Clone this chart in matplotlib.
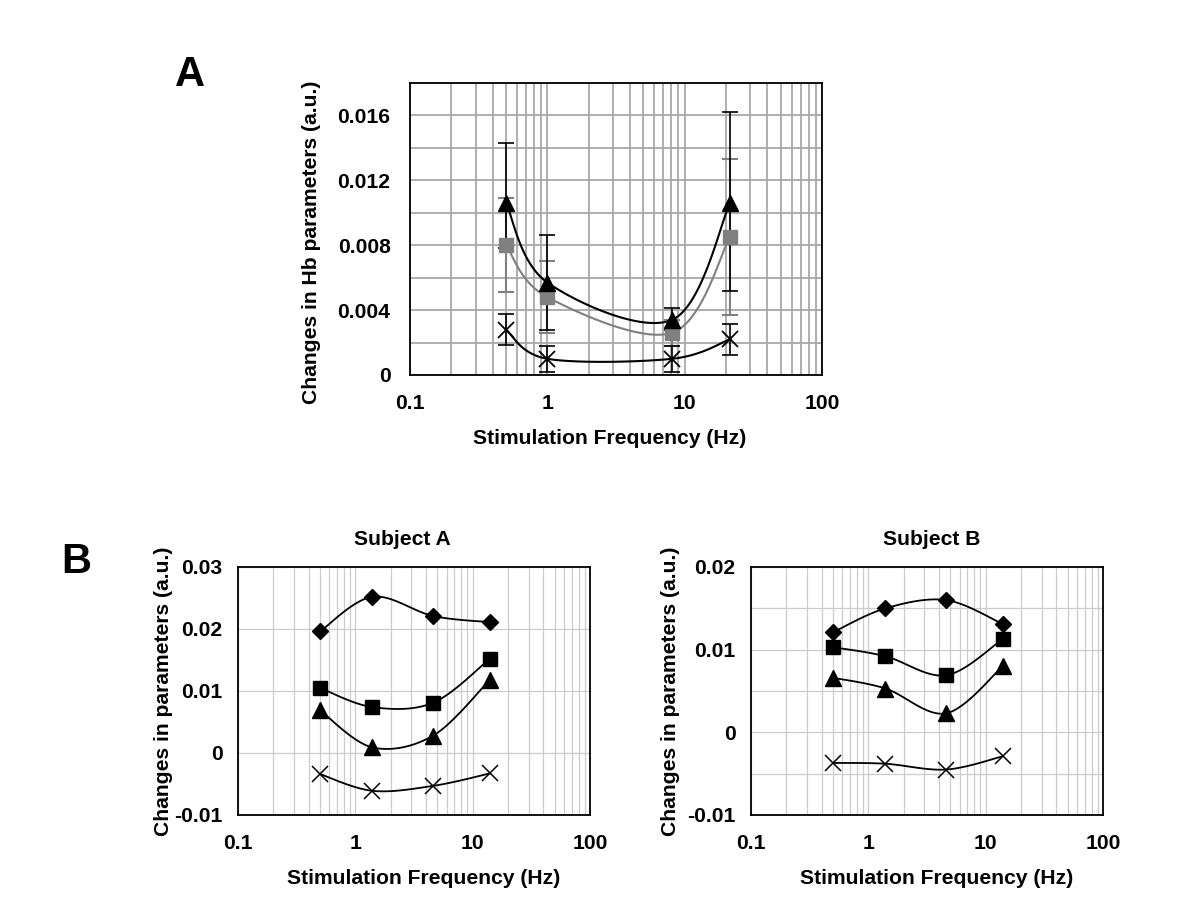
import numpy as np
import matplotlib
matplotlib.use("Agg")
import matplotlib.pyplot as plt
from matplotlib.ticker import FixedLocator, LogLocator, NullFormatter, FixedFormatter

plt.rcParams['font.family'] = ['Liberation Sans', 'DejaVu Sans']
plt.rcParams['font.weight'] = 'bold'

# ---------------- Panel A data ----------------
freq_a = [0.5, 1.0, 8.1, 21.4]
tri_a = [0.0106, 0.0057, 0.0034, 0.0106]
tri_a_err_lo = [0.0028, 0.0029, 0.0006, 0.0054]
tri_a_err_hi = [0.0037, 0.0029, 0.0007, 0.0056]
sq_a = [0.0080, 0.0048, 0.0026, 0.0085]
sq_a_err = [0.0029, 0.0022, 0.0008, 0.0048]
x_a = [0.0028, 0.0010, 0.0010, 0.0022]
x_a_err = [0.00095, 0.0008, 0.0008, 0.00095]
yticks_a = [0, 0.004, 0.008, 0.012, 0.016]
yticklabels_a = ["0", "0.004", "0.008", "0.012", "0.016"]

# ---------------- Panel B data ----------------
freq_b = [0.5, 1.4, 4.6, 14.0]
subjA_diamond = [0.0196, 0.0252, 0.0221, 0.0211]
subjA_square = [0.0105, 0.0074, 0.0081, 0.0152]
subjA_triangle = [0.0069, 0.0009, 0.0028, 0.0118]
subjA_x = [-0.0034, -0.0061, -0.0053, -0.0033]
subjB_diamond = [0.0121, 0.0150, 0.0160, 0.0131]
subjB_square = [0.0103, 0.0092, 0.0069, 0.0113]
subjB_triangle = [0.0066, 0.0053, 0.0023, 0.0080]
subjB_x = [-0.0037, -0.0038, -0.0045, -0.0029]
yticks_sa = [-0.01, 0, 0.01, 0.02, 0.03]
yticklabels_sa = ["-0.01", "0", "0.01", "0.02", "0.03"]
yticks_sb = [-0.01, 0, 0.01, 0.02]
yticklabels_sb = ["-0.01", "0", "0.01", "0.02"]
xticks = [0.1, 1, 10, 100]
xticklabels = ["0.1", "1", "10", "100"]

FS = 15.2


def smooth(xs, ys, n=40):
    """Catmull-Rom curve through the points in (log10 x, y) space."""
    lx = np.log10(np.asarray(xs, float))
    y = np.asarray(ys, float)
    P = np.column_stack([lx, y])
    Pext = np.vstack([P[0], P, P[-1]])
    out = []
    for i in range(len(P) - 1):
        p0, p1, p2, p3 = Pext[i], Pext[i + 1], Pext[i + 2], Pext[i + 3]
        c1 = p1 + (p2 - p0) / 6.0
        c2 = p2 - (p3 - p1) / 6.0
        t = np.linspace(0, 1, n)[:, None]
        seg = ((1 - t) ** 3) * p1 + 3 * ((1 - t) ** 2) * t * c1 + 3 * (1 - t) * t ** 2 * c2 + t ** 3 * p2
        out.append(seg)
    out = np.vstack(out)
    return 10 ** out[:, 0], out[:, 1]


W, H = 1199, 901
fig = plt.figure(figsize=(W / 100, H / 100), dpi=100)
fig.patch.set_facecolor('white')


def make_ax(l, r, t, b):
    return fig.add_axes([l / W, (H - b) / H, (r - l) / W, (b - t) / H])


def style_axes(ax, ylim, yticks, ylabels, ygrid, gridcolor, gridlw, ylabel,
               ypad, ylabelpad, ylabel_y, xlabel_x):
    ax.set_xscale('log')
    ax.set_xlim(0.1, 100)
    ax.set_ylim(*ylim)
    ax.xaxis.set_major_locator(FixedLocator(xticks))
    ax.xaxis.set_major_formatter(FixedFormatter(xticklabels))
    ax.xaxis.set_minor_locator(LogLocator(base=10, subs=np.arange(2, 10)))
    ax.xaxis.set_minor_formatter(NullFormatter())
    ax.set_yticks(yticks)
    ax.set_yticklabels(ylabels)
    ax.set_yticks(ygrid, minor=True)
    ax.tick_params(which='both', length=0, labelsize=FS)
    ax.tick_params(axis='x', pad=14)
    ax.tick_params(axis='y', pad=ypad)
    for lab in ax.get_xticklabels() + ax.get_yticklabels():
        lab.set_fontweight('bold')
    ax.grid(True, which='both', axis='both', color=gridcolor, lw=gridlw)
    ax.set_axisbelow(True)
    for s in ax.spines.values():
        s.set_linewidth(1.3)
        s.set_color('black')
    ax.set_xlabel('Stimulation Frequency (Hz)', fontsize=FS, fontweight='bold', labelpad=11)
    ax.xaxis.label.set_x(xlabel_x)
    ax.set_ylabel(ylabel, fontsize=FS, fontweight='bold', labelpad=ylabelpad)
    ax.yaxis.label.set_y(ylabel_y)


# ---------------- Panel A ----------------
axA = make_ax(410, 822, 83, 375)
style_axes(axA, (0, 0.018), yticks_a, yticklabels_a, np.arange(0, 0.0181, 0.002),
           '#a8a8a8', 1.3, 'Changes in Hb parameters (a.u.)',
           ypad=14, ylabelpad=12, ylabel_y=0.455, xlabel_x=0.485)
grey = '#808080'
axA.errorbar(freq_a, sq_a, yerr=sq_a_err, fmt='none', ecolor=grey, elinewidth=1.5, capsize=6, capthick=1.5, zorder=3)
axA.errorbar(freq_a, tri_a, yerr=[tri_a_err_lo, tri_a_err_hi], fmt='none', ecolor='black', elinewidth=1.2, capsize=6, capthick=1.2, zorder=3)
axA.errorbar(freq_a, x_a, yerr=x_a_err, fmt='none', ecolor='black', elinewidth=1.2, capsize=6, capthick=1.2, zorder=3)
sx, sy = smooth(freq_a, sq_a)
axA.plot(sx, sy, color=grey, lw=1.5, zorder=4)
sx, sy = smooth(freq_a, tri_a)
axA.plot(sx, sy, color='black', lw=1.5, zorder=4)
sx, sy = smooth(freq_a, x_a)
axA.plot(sx, sy, color='black', lw=1.5, zorder=4)
axA.plot(freq_a, sq_a, ls='none', marker='s', ms=10, color=grey, zorder=5)
axA.plot(freq_a, tri_a, ls='none', marker='^', ms=12, color='black', zorder=5)
axA.plot(freq_a, x_a, ls='none', marker='x', ms=12, mew=1.3, color='black', zorder=5)

fig.text(190 / W, 1 - 75 / H, 'A', fontsize=30, fontweight='bold', ha='center', va='center')
fig.text(76 / W, 1 - 562 / H, 'B', fontsize=30, fontweight='bold', ha='center', va='center')


# ---------------- Panel B ----------------
def draw_subject(ax, d, s, t, x):
    for vals in (d, s, t, x):
        sx, sy = smooth(freq_b, vals)
        ax.plot(sx, sy, color='black', lw=1.3, zorder=4)
    ax.plot(freq_b, d, ls='none', marker='D', ms=8, color='black', zorder=5)
    ax.plot(freq_b, s, ls='none', marker='s', ms=10, color='black', zorder=5)
    ax.plot(freq_b, t, ls='none', marker='^', ms=11, color='black', zorder=5)
    ax.plot(freq_b, x, ls='none', marker='x', ms=11, mew=1.1, color='black', zorder=5)


axSA = make_ax(238, 590, 567, 815)
style_axes(axSA, (-0.01, 0.03), yticks_sa, yticklabels_sa, np.arange(-0.01, 0.0301, 0.01),
           '#cccccc', 0.9, 'Changes in parameters (a.u.)',
           ypad=11, ylabelpad=1, ylabel_y=0.5, xlabel_x=0.526)
draw_subject(axSA, subjA_diamond, subjA_square, subjA_triangle, subjA_x)
axSA.set_title('Subject A', fontsize=FS, fontweight='bold', pad=16, x=0.466)

axSB = make_ax(751, 1103, 567, 815)
style_axes(axSB, (-0.01, 0.02), yticks_sb, yticklabels_sb, np.arange(-0.01, 0.0201, 0.005),
           '#cccccc', 0.9, 'Changes in parameters (a.u.)',
           ypad=11, ylabelpad=5, ylabel_y=0.5, xlabel_x=0.527)
draw_subject(axSB, subjB_diamond, subjB_square, subjB_triangle, subjB_x)
axSB.set_title('Subject B', fontsize=FS, fontweight='bold', pad=16, x=0.514)

fig.savefig('out.png', dpi=100, facecolor='white')
